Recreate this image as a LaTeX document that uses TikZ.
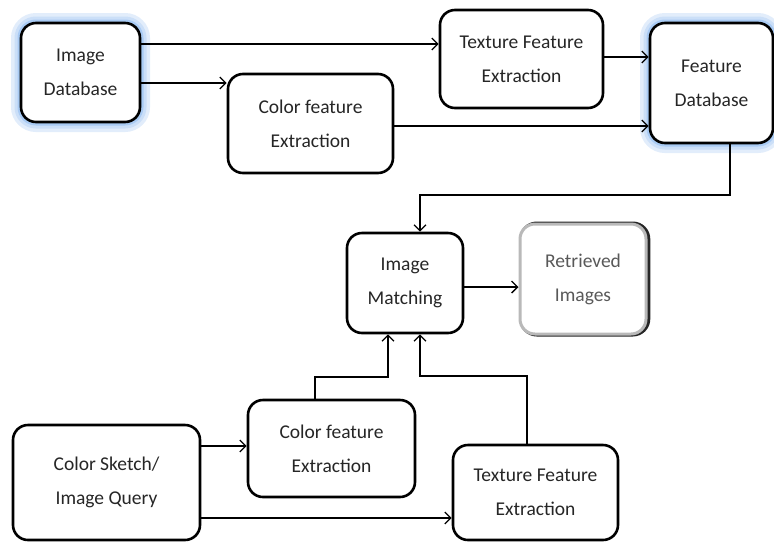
\documentclass[tikz,border=0pt]{standalone}
\usepackage{fontspec}
\setmainfont{Carlito}
\usepackage{tikz}
\usetikzlibrary{arrows.meta}
\definecolor{glowblue}{RGB}{140,185,240}

\begin{document}
\begin{tikzpicture}[x=1pt,y=-1pt,line width=1.3pt,
  every node/.style={font=\fontsize{19.5pt}{34pt}\selectfont,text=black!85}]
\tikzset{block/.style={draw,rectangle,rounded corners=15pt,line width=2.6pt,fill=white,align=center,inner sep=0pt},
  glow/.style={preaction={draw=glowblue!25,line width=20pt,rounded corners=18pt},
               preaction={draw=glowblue!45,line width=13pt,rounded corners=17pt},
               preaction={draw=glowblue!75,line width=7pt,rounded corners=16pt}},
  result/.style={draw=gray!55,line width=3pt,text=black!65,
               preaction={draw=black!85,line width=5pt,transform canvas={shift={(1.8pt,0pt)}}}},
  arr/.style={-{Straight Barb[length=6pt,width=12pt,line width=1.3pt]}}}
\useasboundingbox (0,0) rectangle (774,542);

% ---------- database side ----------
\node[block,glow,minimum width=119pt,minimum height=99pt] (imgdb) at (80.5,72.5) {Image\\Database};
\node[block,minimum width=163pt,minimum height=98pt] (textop) at (521.5,59) {Texture Feature\\Extraction};
\node[block,minimum width=165pt,minimum height=99pt] (coltop) at (310.5,123.5) {Color feature\\Extraction};
\node[block,glow,minimum width=123pt,minimum height=120pt] (featdb) at (711.5,83) {Feature\\Database};

\coordinate (a1) at ([yshift=28.5pt]imgdb.east);
\coordinate (a2) at ([yshift=-10.5pt]imgdb.east);
\coordinate (a3) at ([yshift=-2.5pt]coltop.east);
\coordinate (a4) at ([yshift=2pt]textop.east);
\draw[arr] (a1) -- (a1 -| textop.west);
\draw[arr] (a2) -- (a2 -| coltop.west);
\draw[arr] (a3) -- (a3 -| featdb.west);
\draw[arr] (a4) -- (a4 -| featdb.west);

% ---------- matching ----------
\node[block,minimum width=116pt,minimum height=100pt] (match) at (405,283) {Image\\Matching};
\node[block,result,minimum width=126pt,minimum height=110pt] (retr) at (583,279) {Retrieved\\Images};

\coordinate (f1) at ([xshift=18.5pt]featdb.south);
\coordinate (m1) at ([xshift=15pt]match.north);
\coordinate (j1) at (0,195);
\draw[arr] (f1) -- (f1 |- j1) -| (m1);
\coordinate (r1) at ([yshift=-4pt]match.east);
\draw[arr] (r1) -- (r1 -| retr.west);

% ---------- query side ----------
\node[block,minimum width=187pt,minimum height=115pt] (query) at (106.5,482.5) {Color Sketch/\\Image Query};
\node[block,minimum width=167pt,minimum height=97pt] (colbot) at (331.5,448.5) {Color feature\\Extraction};
\node[block,minimum width=165pt,minimum height=95pt] (texbot) at (535.5,492.5) {Texture Feature\\Extraction};

\coordinate (q1) at ([yshift=36.5pt]query.east);
\coordinate (q2) at ([yshift=-35.5pt]query.east);
\draw[arr] (q1) -- (q1 -| colbot.west);
\draw[arr] (q2) -- (q2 -| texbot.west);

\coordinate (c1) at ([xshift=-16.5pt]colbot.north);
\coordinate (t1) at ([xshift=-8.5pt]texbot.north);
\coordinate (m2) at ([xshift=-17pt]match.south);
\coordinate (m3) at ([xshift=15pt]match.south);
\coordinate (j2) at (0,377);
\coordinate (j3) at (0,376);
\draw[arr] (c1) -- (c1 |- j2) -| (m2);
\draw[arr] (t1) -- (t1 |- j3) -| (m3);

\end{tikzpicture}
\end{document}
